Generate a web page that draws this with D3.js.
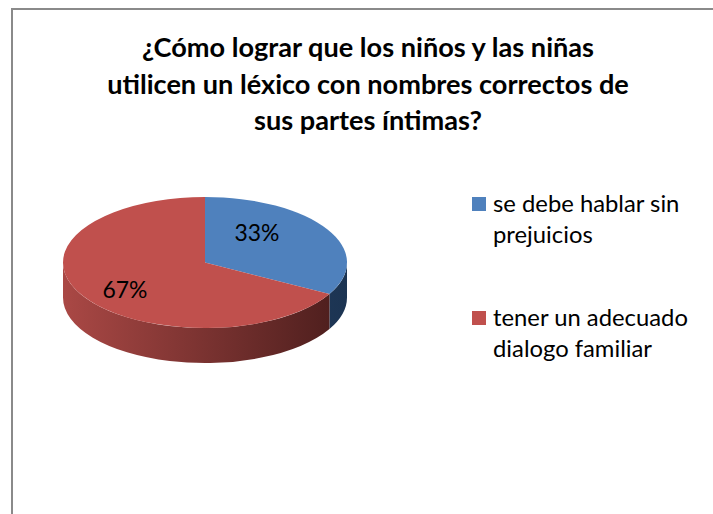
<!DOCTYPE html>
<html>
<head>
<meta charset="utf-8">
<script src="https://cdn.jsdelivr.net/npm/d3@7"></script>
<style>
  body { margin: 0; background: #fff; }
  svg { display: block; font-family: Lato, "Open Sans", sans-serif; }
</style>
</head>
<body>
<div id="chart"></div>
<script>
// Data
const titleLines = [
  "¿Cómo lograr que los niños y las niñas",
  "utilicen un léxico con nombres correctos de",
  "sus partes íntimas?"
];
const categories = ["se debe hablar sin prejuicios", "tener un adecuado dialogo familiar"];
const legendLines = [["se debe hablar sin", "prejuicios"], ["tener un adecuado", "dialogo familiar"]];
const values = [33, 67];

const width = 713, height = 514;

const svg = d3.select("#chart")
  .append("svg")
    .attr("width", width)
    .attr("height", height);

// chart frame (only left and top edges are in view)
svg.append("rect")
  .attr("x", 12).attr("y", 9)
  .attr("width", width + 20).attr("height", height + 20)
  .attr("fill", "#fff")
  .attr("stroke", "#8a8a8a")
  .attr("stroke-width", 2);

// scale a text so its widest line matches the width seen in the picture
function fitSize(sel, base, target) {
  sel.style("font-size", base + "px");
  const w = d3.max(sel.nodes(), n => n.getComputedTextLength());
  const s = base * target / w;
  sel.style("font-size", s + "px");
  return s;
}

// Title
const title = svg.append("g")
  .selectAll("text")
  .data(titleLines)
  .join("text")
    .attr("x", 368)
    .attr("y", (d, i) => 57 + i * 36.5)
    .attr("text-anchor", "middle")
    .attr("font-weight", "bold")
    .attr("fill", "#000")
    .text(d => d);
fitSize(title, 22, 522);

// Colours
const color = d3.scaleOrdinal()
  .domain(categories)
  .range(["#4f81bd", "#c0504d"]);

const sideStops = {
  [categories[0]]: ["#2c4f78", "#1c3452"],
  [categories[1]]: ["#aa4845", "#4a1d1c"]
};

// 3D pie geometry
const cx = 205, cy = 262.5, rx = 142, ry = 65.5, depth = 35;

const defs = svg.append("defs");
categories.forEach((c, i) => {
  const g = defs.append("linearGradient")
    .attr("id", "side" + i)
    .attr("gradientUnits", "userSpaceOnUse")
    .attr("x1", cx - rx).attr("x2", cx + rx)
    .attr("y1", 0).attr("y2", 0);
  g.append("stop").attr("offset", "0%").attr("stop-color", sideStops[c][0]);
  g.append("stop").attr("offset", "100%").attr("stop-color", sideStops[c][1]);
});

const arcs = d3.pie().sort(null).value(d => d)(values);
const total = d3.sum(values);

function pt(a, dy = 0) {
  return [cx + rx * Math.sin(a), cy - ry * Math.cos(a) + dy];
}

function topPath(d) {
  const p0 = pt(d.startAngle), p1 = pt(d.endAngle);
  const large = d.endAngle - d.startAngle > Math.PI ? 1 : 0;
  return `M${cx},${cy}L${p0}A${rx},${ry} 0 ${large} 1 ${p1}Z`;
}

function sidePath(d) {
  const s = Math.max(d.startAngle, Math.PI / 2);
  const e = Math.min(d.endAngle, 3 * Math.PI / 2);
  if (e <= s) return null;
  const a = pt(s), b = pt(e), b2 = pt(e, depth), a2 = pt(s, depth);
  return `M${a}A${rx},${ry} 0 0 1 ${b}L${b2}A${rx},${ry} 0 0 0 ${a2}Z`;
}

const pie = svg.append("g");

pie.selectAll("path.side")
  .data(arcs.filter(d => sidePath(d)))
  .join("path")
    .attr("class", "side")
    .attr("d", sidePath)
    .attr("fill", d => `url(#side${d.index})`);

pie.selectAll("path.top")
  .data(arcs)
  .join("path")
    .attr("class", "top")
    .attr("d", topPath)
    .attr("fill", (d, i) => color(categories[i]));

// percentage labels
const labels = pie.selectAll("text")
  .data(arcs)
  .join("text")
    .attr("x", d => cx - 14 + 0.54 * rx * Math.sin((d.startAngle + d.endAngle) / 2))
    .attr("y", d => cy - 1 - 0.86 * ry * Math.cos((d.startAngle + d.endAngle) / 2))
    .attr("dy", "0.35em")
    .attr("text-anchor", "middle")
    .attr("fill", "#000")
    .text(d => Math.round(d.value / total * 100) + "%");
fitSize(labels, 20, 45);

// Legend
const legend = svg.append("g")
  .selectAll("g")
  .data(categories)
  .join("g")
    .attr("transform", (d, i) => `translate(472, ${197 + i * 114})`);

legend.append("rect")
  .attr("width", 14).attr("height", 14)
  .attr("fill", d => color(d));

const legendText = legend.append("text")
  .attr("x", 21)
  .attr("y", 15)
  .attr("fill", "#000");

legendText.selectAll("tspan")
  .data((d, i) => legendLines[i])
  .join("tspan")
    .attr("x", 21)
    .attr("dy", (d, i) => i === 0 ? 0 : 30.5)
    .text(d => d);

const firstLines = legend.selectAll("tspan").filter((d, i) => i === 0);
const lsize = fitSize(firstLines, 20, 195);
legendText.style("font-size", lsize + "px");
legend.selectAll("tspan").style("font-size", null);
</script>
</body>
</html>
